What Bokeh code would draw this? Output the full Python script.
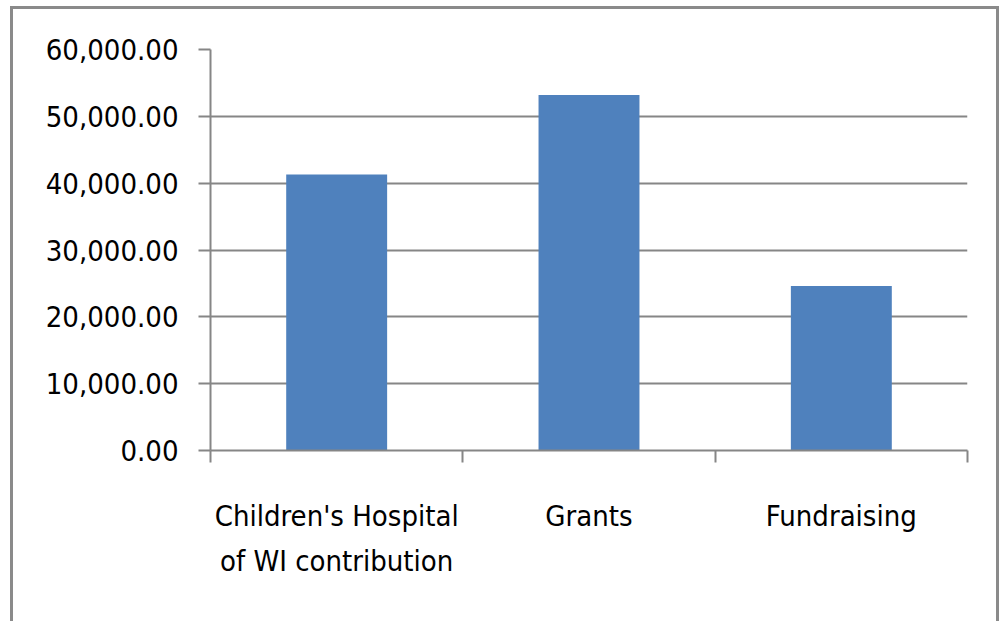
from bokeh.plotting import figure
from bokeh.models import Range1d, FixedTicker, NumeralTickFormatter
from bokeh.embed import file_html
from bokeh.resources import INLINE

categories = ["Children's Hospital\nof WI contribution", "Grants", "Fundraising"]
amounts = [41300, 53200, 24600]
y_ticks = [0, 10000, 20000, 30000, 40000, 50000, 60000]

xs = [i + 0.5 for i in range(len(categories))]
bounds = [i for i in range(len(categories) + 1)]

GRAY = "#868686"
FONT = "DejaVu Sans Condensed, sans-serif"

p = figure(width=989, height=615, output_backend="svg", toolbar_location=None,
           x_range=Range1d(0, len(categories)), y_range=Range1d(0, 60000),
           min_border_left=197, min_border_right=35, min_border_top=40,
           min_border_bottom=174)
p.styles = {"border": "3px solid #8a8a8a", "border-bottom": "none",
            "margin-left": "10px", "margin-top": "6px"}
p.outline_line_color = None

p.vbar(x=xs, top=amounts, width=0.4, fill_color="#4F81BD", line_color=None)

p.xgrid.visible = False
p.ygrid.grid_line_color = GRAY
p.ygrid.grid_line_width = 2
p.ygrid.ticker = FixedTicker(ticks=y_ticks)

ya = p.yaxis[0]
ya.ticker = FixedTicker(ticks=y_ticks)
ya.formatter = NumeralTickFormatter(format="0,0.00")
ya.axis_line_color = GRAY
ya.axis_line_width = 2
ya.major_tick_line_color = GRAY
ya.major_tick_line_width = 2
ya.major_tick_out = 12
ya.major_tick_in = 0
ya.minor_tick_line_color = None
ya.major_label_text_font = FONT
ya.major_label_text_font_size = "29px"
ya.major_label_text_color = "black"
ya.major_label_standoff = 20

xa = p.xaxis[0]
xa.ticker = FixedTicker(ticks=xs, minor_ticks=bounds)
xa.major_label_overrides = {x: c for x, c in zip(xs, categories)}
xa.axis_line_color = GRAY
xa.axis_line_width = 2
xa.major_tick_line_color = None
xa.minor_tick_line_color = GRAY
xa.minor_tick_line_width = 2
xa.minor_tick_out = 12
xa.minor_tick_in = 0
xa.major_label_text_font = FONT
xa.major_label_text_font_size = "29px"
xa.major_label_text_color = "black"
xa.major_label_text_line_height = 1.33
xa.major_label_standoff = 36

open("out.html", "w").write(file_html(p, INLINE))
